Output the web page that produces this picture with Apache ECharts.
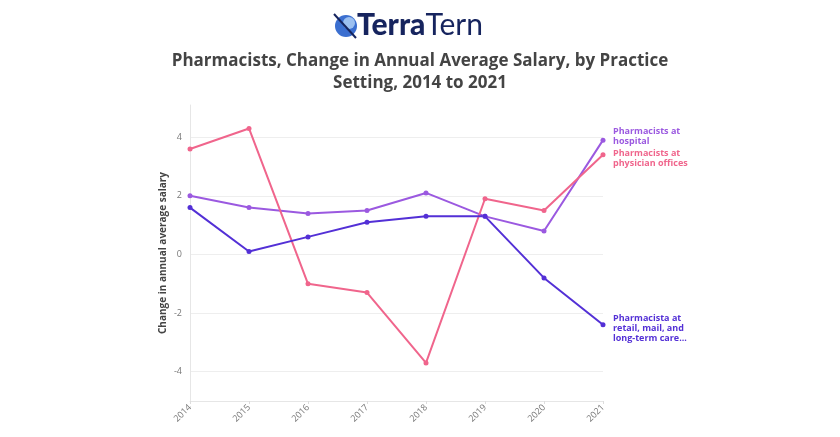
<!DOCTYPE html>
<html>
<head>
<meta charset="utf-8">
<script src="https://cdn.jsdelivr.net/npm/echarts@6/dist/echarts.min.js"></script>
<style>
  html, body { margin: 0; padding: 0; background: #fff; }
  #chart { width: 840px; height: 437px; }
</style>
</head>
<body>
<div id="chart"></div>
<script>
var years = ['2014', '2015', '2016', '2017', '2018', '2019', '2020', '2021'];
var hospital = [2.0, 1.6, 1.4, 1.5, 2.1, 1.3, 0.8, 3.9];
var physician = [3.6, 4.3, -1.0, -1.3, -3.7, 1.9, 1.5, 3.4];
var retail = [1.6, 0.1, 0.6, 1.1, 1.3, 1.3, -0.8, -2.4];
var yTicks = [-4, -2, 0, 2, 4];

var chart = echarts.init(document.getElementById('chart'));

function line(name, data, color, label, offsetY) {
    return {
        name: name,
        type: 'line',
        data: data,
        symbol: 'circle',
        symbolSize: 5,
        lineStyle: { color: color, width: 2 },
        itemStyle: { color: color },
        endLabel: {
            show: true,
            formatter: label,
            color: color,
            fontSize: 9,
            fontWeight: 'bold',
            fontFamily: 'Open Sans',
            lineHeight: 10,
            align: 'left',
            verticalAlign: 'middle',
            offset: [2, offsetY]
        }
    };
}

var option = {
    backgroundColor: '#fff',
    animation: false,
    title: {
        text: 'Pharmacists, Change in Annual Average Salary, by Practice\nSetting, 2014 to 2021',
        left: 'center',
        top: 45,
        textStyle: { fontSize: 17, fontWeight: 'bold', color: '#444', fontFamily: 'Open Sans', lineHeight: 22 }
    },
    graphic: [
        {
            type: 'text', left: 357, top: 10,
            style: {
                text: '{a|Terra}{b|Tern}',
                rich: {
                    a: { fontSize: 30, fontWeight: 900, fill: '#16245e', fontFamily: 'Lato' },
                    b: { fontSize: 30, fill: '#16245e', fontFamily: 'Lato' }
                }
            }
        },
        { type: 'circle', shape: { cx: 346, cy: 26, r: 11 }, style: { fill: '#3b6fd0' } },
        { type: 'circle', shape: { cx: 349, cy: 23, r: 6 }, style: { fill: '#9cc0f0' } },
        { type: 'line', shape: { x1: 334, y1: 14, x2: 356, y2: 38 }, style: { stroke: '#16245e', lineWidth: 2 } }
    ],
    grid: { left: 190, right: 237, top: 105, bottom: 36 },
    xAxis: {
        type: 'category',
        data: years,
        boundaryGap: false,
        axisLine: { onZero: false, lineStyle: { color: '#e6e6e6' } },
        axisTick: { show: true, length: 3, lineStyle: { color: '#ddd' } },
        axisLabel: { rotate: 45, color: '#777', fontSize: 9, fontFamily: 'Open Sans', margin: 5 },
        splitLine: { show: false }
    },
    yAxis: {
        type: 'value',
        min: -5,
        max: 5.1,
        name: 'Change in annual average salary',
        nameLocation: 'middle',
        nameGap: 22,
        nameTextStyle: { fontSize: 10, fontWeight: 'bold', color: '#444', fontFamily: 'Open Sans' },
        axisLine: { show: true, lineStyle: { color: '#e6e6e6' } },
        axisTick: { show: false, customValues: yTicks },
        axisLabel: { customValues: yTicks, color: '#777', fontSize: 9, fontFamily: 'Open Sans', margin: 8 },
        splitLine: { show: true, lineStyle: { color: '#eeeeee' } }
    },
    series: [
        line('hospital', hospital, '#9b59e0', 'Pharmacists at\nhospital', -4),
        line('physician', physician, '#f0658c', 'Pharmacists at\nphysician offices', 4),
        line('retail', retail, '#5330d6', 'Pharmacista at\nretail, mail, and\nlong-term care...', 4)
    ]
};

chart.setOption(option);
</script>
</body>
</html>
